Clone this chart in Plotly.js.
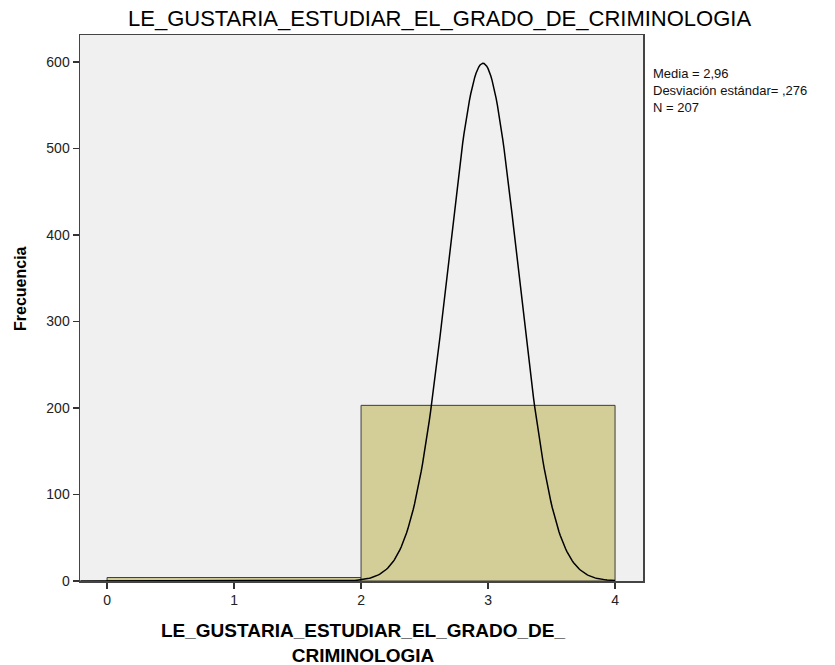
<!DOCTYPE html>
<html>
<head>
<meta charset="utf-8">
<script src="https://cdn.plot.ly/plotly-3.0.1.min.js"></script>
<style>body{margin:0;background:#fff;} #chart{width:835px;height:665px;}</style>
</head>
<body>
<div id="chart"></div>
<script>
// Histogram bins (centers), widths and counts
const binCenters = [1, 3];
const binWidth = 2;
const counts = [4, 203];
// Summary statistics shown in the legend box
const mean = 2.96;
const sd = 0.276;
const n = 207;
const xTicks = [0, 1, 2, 3, 4];
const yTicks = [0, 100, 200, 300, 400, 500, 600];
const chartTitle = 'LE_GUSTARIA_ESTUDIAR_EL_GRADO_DE_CRIMINOLOGIA';
const xTitleLines = ['LE_GUSTARIA_ESTUDIAR_EL_GRADO_DE_', 'CRIMINOLOGIA'];
const yTitle = 'Frecuencia';
const statLines = ['Media = 2,96', 'Desviación estándar= ,276', 'N = 207'];

// Fitted normal curve (derived from stated mean, sd, N and bin width)
const curveX = [], curveY = [];
const x0 = -0.21, x1 = 4;
for (let i = 0; i <= 400; i++) {
  const x = x0 + (x1 - x0) * i / 400;
  curveX.push(x);
  curveY.push(n * binWidth / (sd * Math.sqrt(2 * Math.PI)) * Math.exp(-0.5 * Math.pow((x - mean) / sd, 2)));
}

const data = [
  {type: 'bar', x: binCenters, y: counts, width: [binWidth, binWidth],
   marker: {color: '#d3ce98', line: {color: '#3c3c3c', width: 1}}, hoverinfo: 'x+y'},
  {type: 'scatter', mode: 'lines', x: curveX, y: curveY,
   line: {color: '#000000', width: 1.5}, hoverinfo: 'skip'}
];

// plot area: left 80px, width 563px; top 35px, height 546px
const px = X => (X - 80) / 563;
const py = Y => (581 - Y) / 546;

const annotations = [
  {xref: 'paper', yref: 'paper', x: px(439), y: py(18), xanchor: 'center', yanchor: 'middle',
   showarrow: false, text: chartTitle, font: {size: 22, color: '#000'}},
  {xref: 'paper', yref: 'paper', x: px(363), y: py(643), xanchor: 'center', yanchor: 'middle',
   showarrow: false, align: 'center',
   text: xTitleLines.map(t => '<b>' + t + '</b>').join('<br>'), font: {size: 19, color: '#000'}},
  {xref: 'paper', yref: 'paper', x: px(20), y: py(289), xanchor: 'center', yanchor: 'middle',
   showarrow: false, textangle: -90, text: '<b>' + yTitle + '</b>', font: {size: 16, color: '#000'}},
  {xref: 'paper', yref: 'paper', x: px(651), y: py(64), xanchor: 'left', yanchor: 'top',
   showarrow: false, align: 'left',
   text: statLines.join('<br>'), font: {size: 13, color: '#111'}}
];

const layout = {
  width: 835, height: 665,
  margin: {l: 80, r: 192, t: 35, b: 84},
  paper_bgcolor: '#ffffff',
  plot_bgcolor: '#f0f0f0',
  showlegend: false,
  bargap: 0,
  font: {family: 'Liberation Sans, Arial, sans-serif', color: '#000'},
  xaxis: {range: [-0.213, 4.22], tickvals: xTicks, ticktext: xTicks.map(String),
          ticks: 'outside', ticklen: 6, tickcolor: '#333', tickwidth: 1.5,
          showline: true, linecolor: '#444', linewidth: 1.5, mirror: true,
          showgrid: false, zeroline: false, tickfont: {size: 14, color: '#222'}},
  yaxis: {range: [0, 631], tickvals: yTicks, ticktext: yTicks.map(String),
          ticks: 'outside', ticklen: 6, tickcolor: '#333', tickwidth: 1.5,
          showline: true, linecolor: '#444', linewidth: 1.5, mirror: true,
          showgrid: false, zeroline: false, tickfont: {size: 14, color: '#222'}},
  annotations: annotations
};

Plotly.newPlot('chart', data, layout, {displayModeBar: false, staticPlot: true});
</script>
</body>
</html>
